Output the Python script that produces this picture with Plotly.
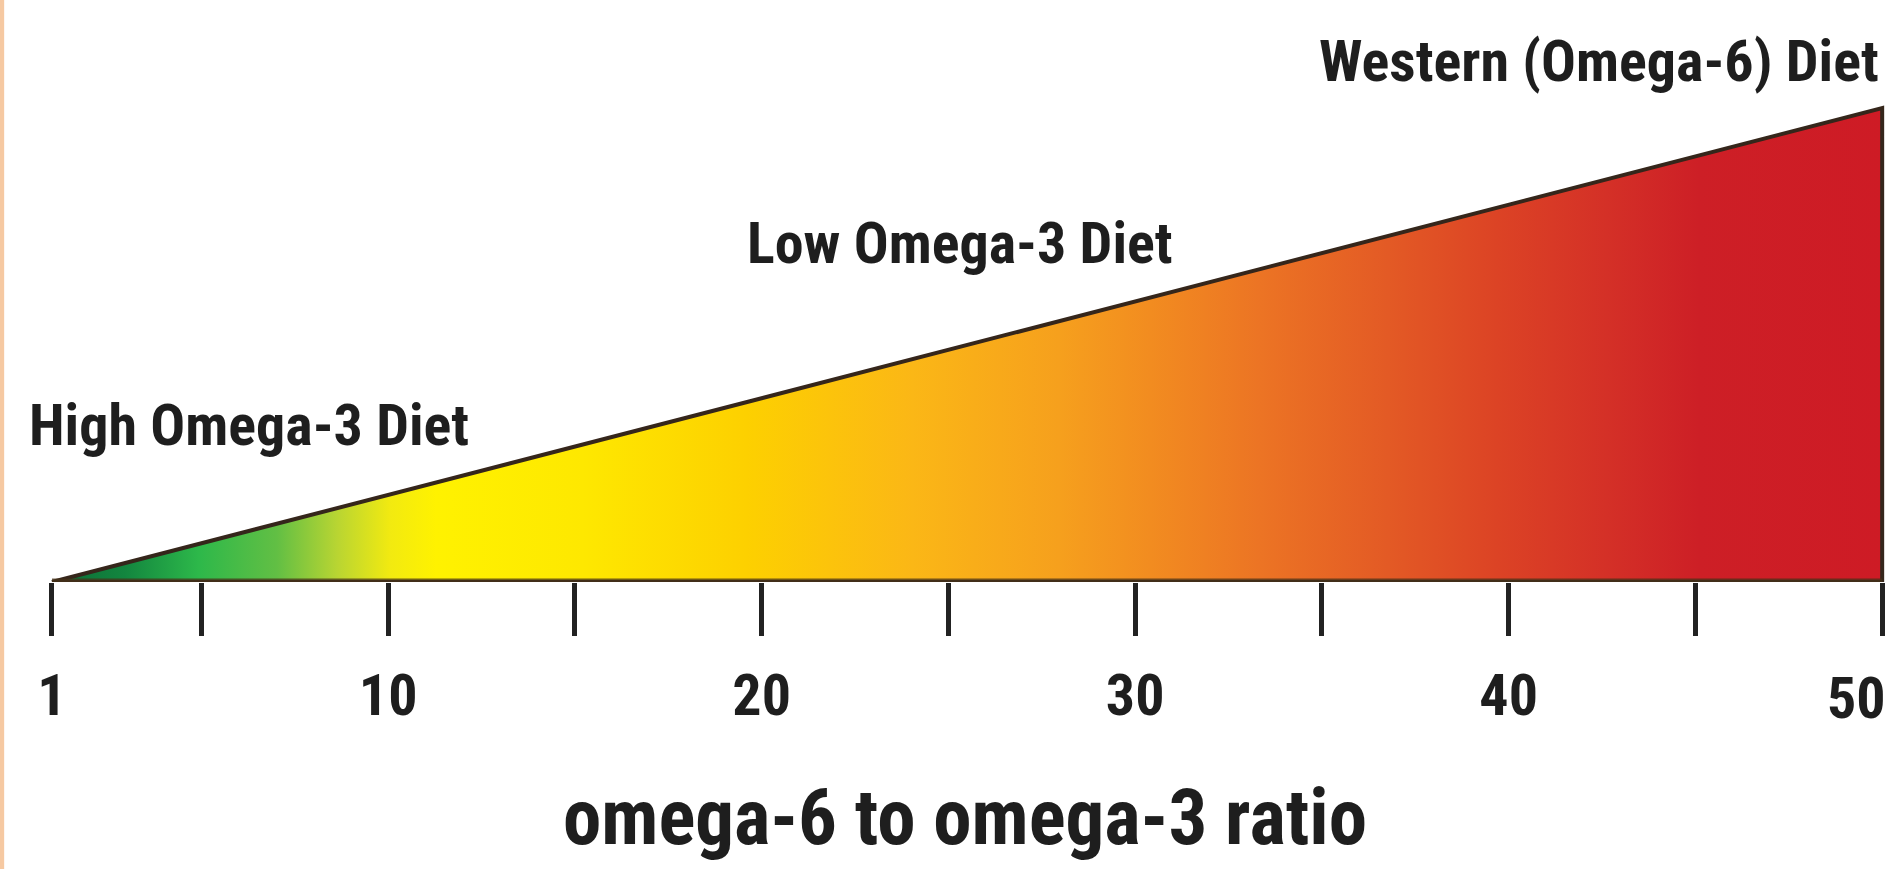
import plotly.graph_objects as go

# ---- data ----
ratio_start = 1
ratio_end = 50
top_level = 1.0            # relative height of the wedge at the Western end
ratio_ticks = [1, 5, 10, 15, 20, 25, 30, 35, 40, 45, 50]
tick_labels = ["1", "", "10", "", "20", "", "30", "", "40", "", ""]
end_label = "50"
diet_labels = ["High Omega-3 Diet", "Low Omega-3 Diet", "Western (Omega-6) Diet"]
axis_title = "omega-6 to omega-3 ratio"

gradient = [
    [0.00, "#0b6a36"],
    [0.04, "#13863f"],
    [0.08, "#2db84a"],
    [0.123, "#62bf44"],
    [0.156, "#b9d532"],
    [0.185, "#f2ea10"],
    [0.21, "#fff200"],
    [0.29, "#fee800"],
    [0.38, "#fdd000"],
    [0.47, "#fbb716"],
    [0.55, "#f6a01d"],
    [0.60, "#f28c20"],
    [0.66, "#ec7424"],
    [0.73, "#e35a25"],
    [0.79, "#dc4325"],
    [0.85, "#d43027"],
    [0.90, "#cd1f26"],
    [1.00, "#ce1b25"],
]

FONT = "'Roboto Condensed', 'Liberation Sans', sans-serif"
TXT = "#1e1e1e"

fig = go.Figure()

fig.add_trace(go.Scatter(
    x=[ratio_start, ratio_end, ratio_end, ratio_start],
    y=[0, top_level, 0, 0],
    mode="lines",
    fill="toself",
    fillgradient=dict(type="horizontal", colorscale=gradient),
    line=dict(color="#35261b", width=4),
    hoverinfo="skip", showlegend=False, cliponaxis=False,
))

fig.add_trace(go.Scatter(
    x=[ratio_start, ratio_end], y=[0, 0], mode="lines",
    line=dict(color="rgba(70,50,25,0.75)", width=7),
    hoverinfo="skip", showlegend=False, cliponaxis=False,
))

label_pos = [
    dict(x=0.33, y=0.331, xanchor="left"),
    dict(x=19.55, y=0.715, xanchor="left"),
    dict(x=49.97, y=1.10, xanchor="right"),
]
for txt, p in zip(diet_labels, label_pos):
    fig.add_annotation(
        x=p["x"], y=p["y"], xref="x", yref="y", text=txt, showarrow=False,
        xanchor=p["xanchor"], yanchor="middle",
        font=dict(family=FONT, size=58, color=TXT, weight="bold"),
    )

fig.add_annotation(
    x=0.5098, y=-0.405, xref="paper", yref="paper", text=axis_title, showarrow=False,
    xanchor="center", yanchor="middle",
    font=dict(family=FONT, size=77, color=TXT, weight="bold"),
)

fig.add_annotation(
    x=ratio_end, xref="x", y=-0.2, yref="paper", text=end_label, showarrow=False,
    xanchor="right", yanchor="middle", xshift=6,
    font=dict(family=FONT, size=58, color=TXT, weight="bold"),
)

fig.add_shape(type="rect", xref="paper", yref="paper", x0=0, x1=0.0022,
              y0=-0.5, y1=1.0, line_width=0, fillcolor="#f6c9a2", layer="below")

fig.update_layout(
    width=1893, height=869,
    margin=dict(l=0, r=0, t=0, b=287),
    paper_bgcolor="white", plot_bgcolor="white",
    xaxis=dict(
        range=[-0.392, 50.29], showgrid=False, zeroline=False, showline=False,
        tickmode="array", tickvals=ratio_ticks, ticktext=tick_labels,
        ticks="outside", ticklen=53, tickwidth=5, tickcolor="#222222",
        ticklabeloverflow="allow", ticklabelstandoff=9,
        tickfont=dict(family=FONT, size=58, color=TXT, weight="bold"),
        fixedrange=True,
    ),
    yaxis=dict(range=[0, 1.2278], visible=False, fixedrange=True),
)

fig.write_html("out.html", config={"displayModeBar": False},
               post_script="document.body.style.margin='0';")
